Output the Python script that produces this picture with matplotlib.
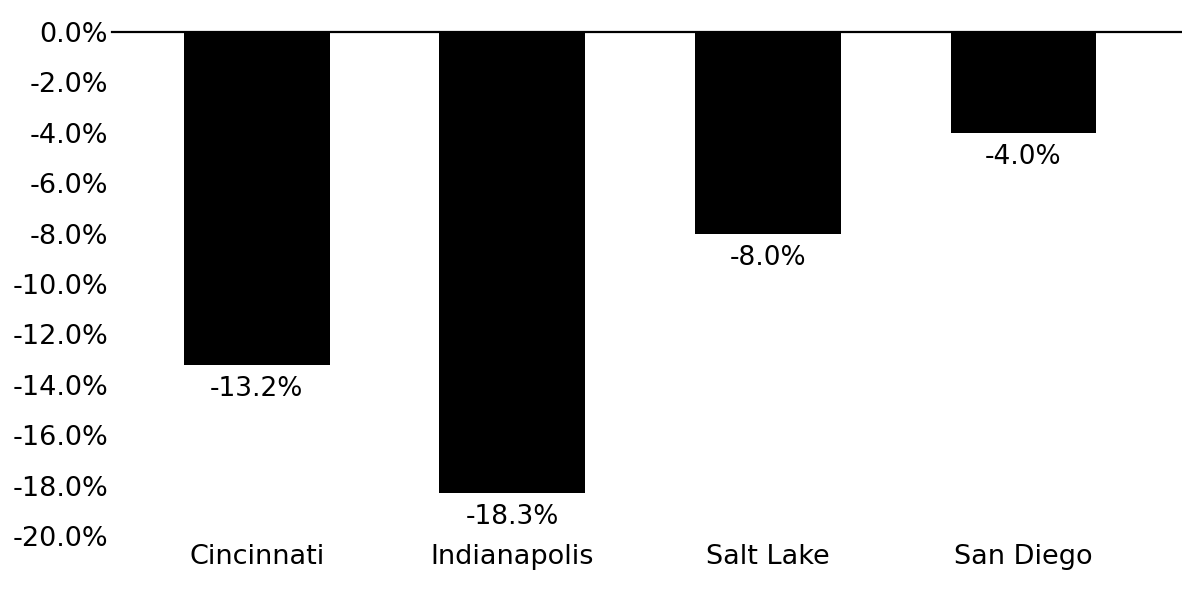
import matplotlib
matplotlib.use("Agg")
import matplotlib.pyplot as plt
import numpy as np

cities = ["Cincinnati", "Indianapolis", "Salt Lake", "San Diego"]
change_pct = [-13.2, -18.3, -8.0, -4.0]
y_ticks = [0, -2, -4, -6, -8, -10, -12, -14, -16, -18, -20]

plt.rcParams["font.family"] = ["DejaVu Sans"]

fig = plt.figure(figsize=(11.82, 5.91), dpi=100)
ax = fig.add_axes([0.0948, 0.0931, 0.9052, 0.8528])

x = np.arange(len(cities))
ax.bar(x, change_pct, width=0.57, color="black", zorder=2)
ax.axhline(0, color="black", linewidth=1.6, zorder=3, clip_on=False)

for xi, v in zip(x, change_pct):
    ax.annotate(f"{v:.1f}%", (xi, v), xytext=(0, -8), textcoords="offset points",
                ha="center", va="top", fontsize=19, color="black")

ax.set_xlim(-0.566, 3.62)
ax.set_ylim(-20, 0)
ax.set_yticks(y_ticks)
ax.set_yticklabels([f"{t:.1f}%" for t in y_ticks], fontsize=19.5)
ax.set_xticks(x)
ax.set_xticklabels(cities, fontsize=19.5)
ax.tick_params(axis="both", length=0)
ax.tick_params(axis="y", pad=3)
ax.tick_params(axis="x", pad=6)
for s in ax.spines.values():
    s.set_visible(False)

fig.savefig("out.png", dpi=100, facecolor="white")
